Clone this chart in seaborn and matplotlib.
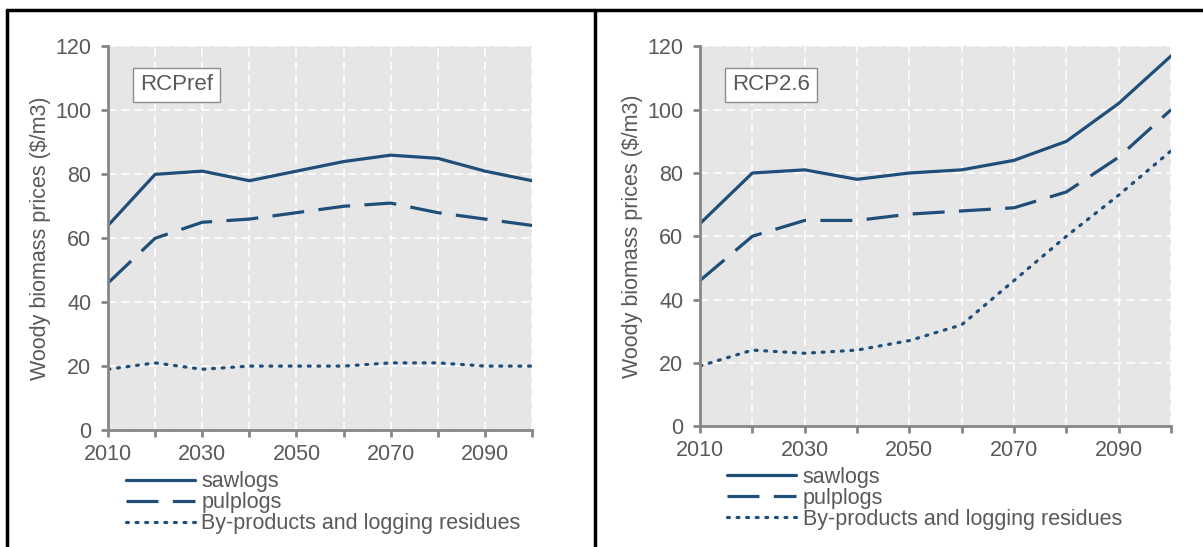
import numpy as np
import matplotlib.pyplot as plt
from matplotlib.lines import Line2D
import pandas as pd
import seaborn as sns

years = [2010, 2020, 2030, 2040, 2050, 2060, 2070, 2080, 2090, 2100]
series_names = ["sawlogs", "pulplogs", "By-products and logging residues"]

ref_sawlogs = [64, 80, 81, 78, 81, 84, 86, 85, 81, 78]
ref_pulplogs = [46, 60, 65, 66, 68, 70, 71, 68, 66, 64]
ref_residues = [19, 21, 19, 20, 20, 20, 21, 21, 20, 20]

rcp26_sawlogs = [64, 80, 81, 78, 80, 81, 84, 90, 102, 117]
rcp26_pulplogs = [46, 60, 65, 65, 67, 68, 69, 74, 85, 100]
rcp26_residues = [19, 24, 23, 24, 27, 32, 46, 60, 73, 87]

panel_names = ["RCPref", "RCP2.6"]
y_ticks = [0, 20, 40, 60, 80, 100, 120]

sns.set_theme(style="white")
plt.rcParams['font.family'] = ['Liberation Sans', 'DejaVu Sans']

line_col = '#1f4e79'
txt_col = '#595959'
fs = 15.5
styles = [
    dict(linestyle='-'),
    dict(linestyle=(0, (10, 4.5))),
    dict(linestyle=(0, (0.6, 2.4)), dash_capstyle='round'),
]

fig = plt.figure(figsize=(12.03, 5.47), dpi=100)
ax1 = fig.add_axes([0.0898, 0.2139, 0.3525, 0.7011])
ax2 = fig.add_axes([0.5819, 0.2212, 0.3915, 0.6938])

panels = [
    (ax1, [ref_sawlogs, ref_pulplogs, ref_residues], panel_names[0], 0.022),
    (ax2, [rcp26_sawlogs, rcp26_pulplogs, rcp26_residues], panel_names[1], 0.04),
]

for ax, vals, name, leg_x in panels:
    for label, v, st in zip(series_names, vals, styles):
        df = pd.DataFrame({'year': years, 'price': v})
        sns.lineplot(x='year', y='price', data=df, ax=ax, color=line_col,
                     lw=2.3, label=label, **st)
    ax.set_facecolor('#e6e6e6')
    ax.set_xlim(2010, 2100)
    ax.set_ylim(0, 120)
    ax.set_xticks(years)
    ax.set_xticklabels([str(y) if (y - 2010) % 20 == 0 else '' for y in years])
    ax.set_yticks(y_ticks)
    ax.grid(True, color='white', linestyle=(0, (5, 3)), lw=1.2)
    ax.set_axisbelow(True)
    for s in ['top', 'right']:
        ax.spines[s].set_visible(False)
    for s in ['left', 'bottom']:
        ax.spines[s].set_color('#868686')
        ax.spines[s].set_linewidth(2)
    ax.tick_params(axis='both', colors='#868686', labelcolor=txt_col,
                   labelsize=fs, length=5, width=2, direction='out',
                   left=True, bottom=True)
    ax.tick_params(axis='x', pad=5)
    ax.tick_params(axis='y', pad=7)
    ax.set_xlabel('')
    ax.set_ylabel('Woody biomass prices ($/m3)', color=txt_col, fontsize=fs, labelpad=3)
    ax.annotate(name, xy=(0, 1), xycoords='axes fraction', xytext=(23, -27.5),
                textcoords='offset points', fontsize=16, color=txt_col,
                va='center', ha='left',
                bbox=dict(boxstyle='square,pad=0.3', fc='white', ec='#8c8c8c', lw=1))
    leg = ax.legend(loc='upper left', bbox_to_anchor=(leg_x, -0.085), frameon=False,
                    fontsize=fs, handlelength=3.2, handletextpad=0.3,
                    labelspacing=0.0, borderaxespad=0)
    for t in leg.get_texts():
        t.set_color(txt_col)

# table-like frame lines
fig.add_artist(Line2D([0.0058, 1], [0.9826, 0.9826], color='black', lw=2.5))
fig.add_artist(Line2D([0.0062, 0.0062], [0, 0.9826], color='black', lw=2.5))
fig.add_artist(Line2D([0.4950, 0.4950], [0, 0.9826], color='black', lw=2.5))

fig.savefig('out.png', dpi=100)
